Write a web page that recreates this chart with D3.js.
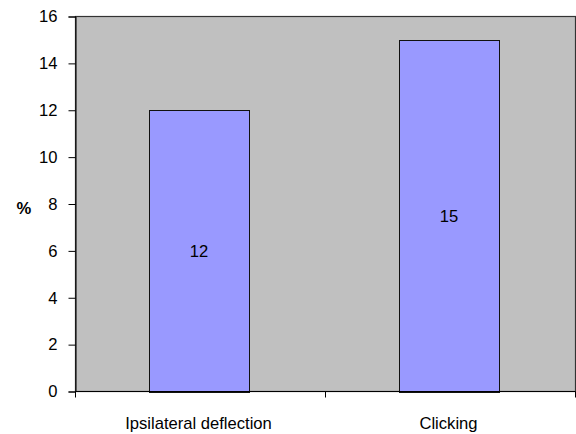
<!DOCTYPE html>
<html><head><meta charset="utf-8">
<script src="https://cdn.jsdelivr.net/npm/d3@7"></script>
<style>body{margin:0;background:#fff}svg{display:block}text{font-family:"Liberation Sans",Arial,sans-serif}</style>
</head><body>
<script>
const categories = ["Ipsilateral deflection", "Clicking"];
const values = [12, 15];
const yTicks = [0, 2, 4, 6, 8, 10, 12, 14, 16];

const W = 576, H = 434;
const FS = 16.6;
const m = {left: 75.5, right: 575.5, top: 16.5, bottom: 391.5};
const svg = d3.select("body").append("svg").attr("width", W).attr("height", H);

const x = d3.scaleBand().domain(categories).range([m.left, m.right]).paddingInner(0.6).paddingOuter(0.3);
const y = d3.scaleLinear().domain([0, 16]).range([m.bottom, m.top]);

svg.append("rect").attr("x", m.left).attr("y", m.top).attr("width", m.right - m.left).attr("height", m.bottom - m.top)
  .attr("fill", "#c0c0c0").attr("stroke", "#333").attr("stroke-width", 1.2);

svg.selectAll("rect.bar").data(values).enter().append("rect").attr("class", "bar")
  .attr("x", (d, i) => Math.floor(x(categories[i])) - 0.5)
  .attr("y", d => Math.round(y(d)) + 0.5)
  .attr("width", x.bandwidth())
  .attr("height", d => Math.round(y(0)) - Math.round(y(d)))
  .attr("fill", "#9999ff").attr("stroke", "#111").attr("stroke-width", 1);

svg.selectAll("text.val").data(values).enter().append("text").attr("class", "val")
  .attr("x", (d, i) => x(categories[i]) + x.bandwidth() / 2 - 1.5)
  .attr("y", d => (y(d) + y(0)) / 2)
  .attr("dy", "0.35em").attr("text-anchor", "middle").attr("font-size", FS).attr("fill", "#000")
  .text(d => d);

const yAxis = svg.append("g").attr("transform", `translate(${m.left},0)`)
  .call(d3.axisLeft(y).tickValues(yTicks).tickSize(7).tickPadding(11).tickFormat(d3.format("d")));
yAxis.select(".domain").attr("stroke", "#000");
yAxis.selectAll(".tick line").attr("stroke", "#000");
yAxis.selectAll("text").attr("font-size", FS).attr("fill", "#000").attr("font-family", '"Liberation Sans",Arial,sans-serif');

const xAxisG = svg.append("g");
xAxisG.append("line").attr("x1", m.left).attr("x2", m.right).attr("y1", m.bottom).attr("y2", m.bottom).attr("stroke", "#000").attr("stroke-width", 1.2);
const bounds = [m.left, (m.left + m.right) / 2, m.right];
xAxisG.selectAll("line.t").data(bounds).enter().append("line").attr("class", "t")
  .attr("x1", d => d).attr("x2", d => d).attr("y1", m.bottom).attr("y2", m.bottom + 6).attr("stroke", "#000");
xAxisG.selectAll("text").data(categories).enter().append("text")
  .attr("x", d => x(d) + x.bandwidth() / 2 - 2).attr("y", 429)
  .attr("text-anchor", "middle").attr("font-size", FS).attr("fill", "#000").text(d => d);

svg.append("text").attr("x", 24).attr("y", 208).attr("dy", "0.35em").attr("text-anchor", "middle")
  .attr("font-size", FS).attr("font-weight", "bold").text("%");
</script>
</body></html>
